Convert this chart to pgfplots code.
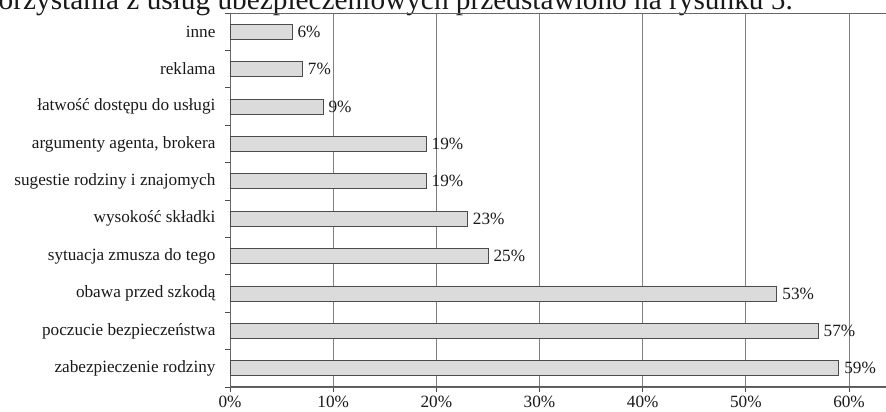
\documentclass[border=0pt]{standalone}
\usepackage{fontspec}
\setmainfont{Liberation Serif}
\usepackage{pgfplots}
\pgfplotsset{compat=1.18}
\begin{document}
\begin{tikzpicture}[x=1pt,y=1pt]
\useasboundingbox (0,0) rectangle (886,412);
\clip (0,0) rectangle (886,412);
\node[anchor=base east, inner sep=0pt, font=\fontsize{29.3}{33}\selectfont, black!90] at (793,402.7) {korzystania z usług ubezpieczeniowych przedstawiono na rysunku 5.};
\begin{axis}[
  at={(230pt,25pt)}, anchor=south west,
  width=670.6pt, height=374pt, scale only axis,
  xmin=0, xmax=65, ymin=-0.5, ymax=9.5,
  xbar, bar width=15pt,
  xtick={0,10,...,60},
  xticklabels={0\%,10\%,20\%,30\%,40\%,50\%,60\%},
  ytick={0,...,9},
  yticklabels={zabezpieczenie rodziny,poczucie bezpieczeństwa,obawa przed szkodą,sytuacja zmusza do tego,wysokość składki,sugestie rodziny i znajomych,{argumenty agenta, brokera},łatwość dostępu do usługi,reklama,inne},
  minor ytick={-0.5,0.5,...,9.5},
  xtick pos=bottom, ytick pos=left,
  xmajorgrids, major grid style={black!50, line width=0.8pt},
  tick align=outside, major tick length=5pt, minor tick length=5pt,
  major y tick style={draw=none},
  tick style={black!70, line width=0.8pt},
  axis line style={black!60, line width=0.8pt},
  tick label style={font=\fontsize{17.2}{19}\selectfont, black!90},
  y tick label style={xshift=-6pt},
  x tick label style={yshift=-0.5pt},
  /pgf/number format/assume math mode=true,
  point meta=x,
  nodes near coords={\pgfmathprintnumber{\pgfplotspointmeta}\%},
  nodes near coords style={font=\fontsize{17.2}{19}\selectfont, anchor=west, xshift=2pt, black!90},
]
\addplot[fill=black!14, draw=black!70, line width=0.7pt] coordinates {
  (59,0) (57,1) (53,2) (25,3) (23,4) (19,5) (19,6) (9,7) (7,8) (6,9)
};
\draw[line width=1.6pt, black!65] (rel axis cs:0,0) -- (rel axis cs:1,0);
\end{axis}
\end{tikzpicture}
\end{document}
